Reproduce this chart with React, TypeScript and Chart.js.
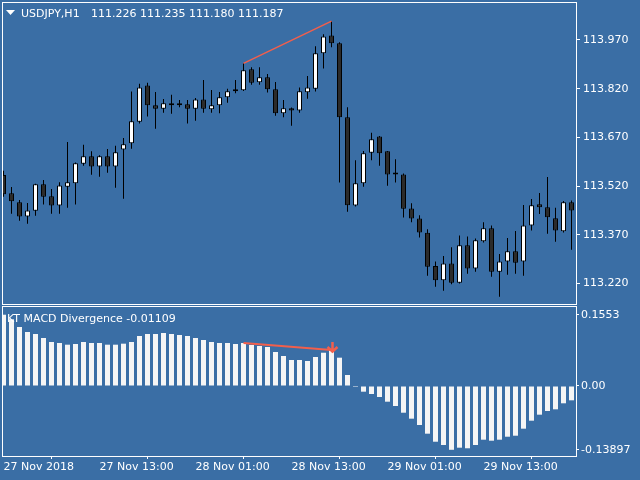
import React, { useEffect, useRef } from "react";
import { Chart, registerables } from "chart.js";
Chart.register(...registerables);

const BG = "#3A6EA5";
const FG = "#ffffff";
const RED = "#f25f4c";
const FONT = "DejaVu Sans";

const symbolTitle = "USDJPY,H1";
const quoteTitle = "111.226 111.235 111.180 111.187";
const macdTitle = "KT MACD Divergence -0.01109";

const timeLabels = ["27 Nov 2018", "27 Nov 13:00", "28 Nov 01:00", "28 Nov 13:00", "29 Nov 01:00", "29 Nov 13:00"];
const timeTickIdx = [0, 12, 24, 36, 48, 60];

const open = [113.554, 113.498, 113.470, 113.426, 113.444, 113.526, 113.489, 113.460, 113.518, 113.529,
  113.589, 113.612, 113.580, 113.612, 113.580, 113.633, 113.652, 113.718, 113.830, 113.769,
  113.758, 113.775, 113.772, 113.772, 113.758, 113.787, 113.757, 113.769, 113.794, 113.816,
  113.815, 113.880, 113.840, 113.855, 113.818, 113.744, 113.760, 113.753, 113.809, 113.820,
  113.929, 113.984, 113.960, 113.732, 113.460, 113.529, 113.623, 113.673, 113.627, 113.557,
  113.556, 113.451, 113.420, 113.376, 113.274, 113.230, 113.282, 113.222, 113.338, 113.266,
  113.350, 113.390, 113.256, 113.288, 113.319, 113.288, 113.399, 113.464, 113.455, 113.421,
  113.381, 113.470];
const high = [113.567, 113.517, 113.477, 113.468, 113.527, 113.539, 113.511, 113.532, 113.656, 113.593,
  113.647, 113.627, 113.615, 113.634, 113.644, 113.668, 113.811, 113.835, 113.838, 113.810,
  113.788, 113.801, 113.785, 113.785, 113.791, 113.847, 113.816, 113.810, 113.820, 113.847,
  113.898, 113.886, 113.886, 113.865, 113.841, 113.785, 113.762, 113.824, 113.859, 113.951,
  113.988, 114.028, 113.963, 113.763, 113.600, 113.628, 113.684, 113.674, 113.628, 113.603,
  113.559, 113.467, 113.430, 113.387, 113.288, 113.305, 113.332, 113.368, 113.365, 113.359,
  113.409, 113.399, 113.311, 113.360, 113.382, 113.462, 113.480, 113.499, 113.548, 113.453,
  113.474, 113.476];
const low = [113.487, 113.435, 113.413, 113.404, 113.429, 113.463, 113.435, 113.435, 113.453, 113.463,
  113.583, 113.555, 113.549, 113.561, 113.515, 113.481, 113.635, 113.713, 113.734, 113.697,
  113.746, 113.743, 113.763, 113.713, 113.721, 113.746, 113.746, 113.744, 113.777, 113.806,
  113.813, 113.832, 113.832, 113.808, 113.737, 113.732, 113.706, 113.746, 113.789, 113.811,
  113.882, 113.948, 113.531, 113.441, 113.457, 113.518, 113.600, 113.583, 113.521, 113.531,
  113.423, 113.409, 113.362, 113.244, 113.210, 113.198, 113.218, 113.220, 113.250, 113.256,
  113.346, 113.241, 113.179, 113.247, 113.250, 113.244, 113.383, 113.434, 113.373, 113.349,
  113.377, 113.324];
const close = [113.495, 113.473, 113.426, 113.445, 113.526, 113.487, 113.460, 113.522, 113.532, 113.590,
  113.612, 113.580, 113.612, 113.580, 113.624, 113.649, 113.720, 113.824, 113.769, 113.758,
  113.775, 113.769, 113.769, 113.758, 113.787, 113.758, 113.769, 113.794, 113.812, 113.812,
  113.877, 113.838, 113.855, 113.818, 113.744, 113.760, 113.753, 113.812, 113.824, 113.929,
  113.981, 113.960, 113.732, 113.461, 113.529, 113.621, 113.664, 113.621, 113.556, 113.556,
  113.450, 113.420, 113.377, 113.272, 113.230, 113.282, 113.222, 113.338, 113.266, 113.353,
  113.390, 113.256, 113.288, 113.319, 113.284, 113.399, 113.461, 113.455, 113.424, 113.383,
  113.470, 113.445];

const macd = [0.1553, 0.1453, 0.1285, 0.1176, 0.1133, 0.1046, 0.0959, 0.0937, 0.0900, 0.0915,
  0.0959, 0.0937, 0.0937, 0.0900, 0.0900, 0.0922, 0.0959, 0.1089, 0.1133, 0.1133,
  0.1155, 0.1133, 0.1111, 0.1089, 0.1046, 0.1002, 0.0959, 0.0937, 0.0937, 0.0915,
  0.0937, 0.0893, 0.0871, 0.0850, 0.0741, 0.0654, 0.0566, 0.0566, 0.0545, 0.0632,
  0.0725, 0.0784, 0.0617, 0.0240, -0.0015, -0.0124, -0.0174, -0.0240, -0.0342, -0.0436,
  -0.0582, -0.0712, -0.0850, -0.1039, -0.1214, -0.1285, -0.13897, -0.1344, -0.1357, -0.1285,
  -0.1170, -0.1192, -0.1170, -0.1105, -0.1083, -0.0930, -0.0756, -0.0625, -0.0545, -0.0508,
  -0.0377, -0.0312];

const priceTicks = [113.22, 113.37, 113.52, 113.67, 113.82, 113.97];
const macdTicks = [-0.13897, 0, 0.1553];
const macdTickLabels = ["-0.13897", "0.00", "0.1553"];
const divergenceFrom = 30;
const divergenceTo = 41;

const PRICE_MIN = 113.1569;
const PRICE_MAX = 114.087;
const MACD_MIN = -0.15251;
const MACD_MAX = 0.17429;
const X_MIN = -0.1875;
const X_MAX = 71.5625;

const idx = open.map((_, i) => i);

const framePlugin = {
  id: "frame",
  afterDraw(chart: any) {
    const { ctx, chartArea } = chart;
    const { left, top, right, bottom } = chartArea;
    ctx.save();
    ctx.strokeStyle = FG;
    ctx.lineWidth = 1;
    ctx.strokeRect(left + 0.5, top + 0.5, right - left, bottom - top);
    ctx.restore();
  },
};

function fixY(s: any) {
  s.width = 64;
  s.paddingTop = 0;
  s.paddingBottom = 0;
}

export default function App() {
  const mainRef = useRef<HTMLCanvasElement>(null);
  const subRef = useRef<HTMLCanvasElement>(null);

  useEffect(() => {
    document.body.style.margin = "0";
    document.body.style.background = BG;

    const tickFont = { family: FONT, size: 11 };

    const mainTitle = {
      id: "mainTitle",
      afterDraw(chart: any) {
        const ctx = chart.ctx;
        ctx.save();
        ctx.fillStyle = FG;
        ctx.beginPath();
        ctx.moveTo(6, 10);
        ctx.lineTo(15, 10);
        ctx.lineTo(10.5, 15);
        ctx.closePath();
        ctx.fill();
        ctx.font = `11px "${FONT}"`;
        ctx.textBaseline = "alphabetic";
        ctx.textAlign = "left";
        ctx.fillText(symbolTitle, 21, 17);
        ctx.fillText(quoteTitle, 91, 17);
        ctx.restore();
      },
    };

    const subTitle = {
      id: "subTitle",
      afterDatasetsDraw(chart: any) {
        const ctx = chart.ctx;
        const xs = chart.scales.x;
        const ys = chart.scales.y;
        const x = Math.round(xs.getPixelForValue(divergenceTo)) + 0.5;
        const yb = ys.getPixelForValue(macd[divergenceTo]);
        ctx.save();
        ctx.strokeStyle = RED;
        ctx.lineWidth = 2.5;
        ctx.beginPath();
        ctx.moveTo(x, yb - 8);
        ctx.lineTo(x, yb + 2.5);
        ctx.moveTo(x - 5, yb - 3);
        ctx.lineTo(x, yb + 1.5);
        ctx.lineTo(x + 5, yb - 3);
        ctx.stroke();
        ctx.restore();
      },
      afterDraw(chart: any) {
        const ctx = chart.ctx;
        ctx.save();
        ctx.fillStyle = FG;
        ctx.font = `11px "${FONT}"`;
        ctx.textBaseline = "alphabetic";
        ctx.textAlign = "left";
        ctx.fillText(macdTitle, 7, 17.5);
        ctx.restore();
      },
    };

    const main = new Chart(mainRef.current!, {
      type: "bar",
      data: {
        datasets: [
          {
            type: "bar",
            data: idx.map((i) => ({ x: i, y: [low[i], high[i]] })) as any,
            backgroundColor: "#000000",
            grouped: false,
            maxBarThickness: 1,
            minBarLength: 1,
            order: 3,
          } as any,
          {
            type: "bar",
            data: idx.map((i) => ({ x: i, y: [Math.min(open[i], close[i]), Math.max(open[i], close[i])] })) as any,
            backgroundColor: idx.map((i) => (close[i] >= open[i] ? "#ffffff" : "#2b2b2b")),
            borderColor: "#000000",
            borderWidth: 1,
            borderSkipped: false,
            grouped: false,
            maxBarThickness: 5,
            minBarLength: 2,
            order: 2,
          } as any,
          {
            type: "line",
            data: [
              { x: divergenceFrom, y: high[divergenceFrom] },
              { x: divergenceTo, y: high[divergenceTo] },
            ],
            borderColor: RED,
            borderWidth: 1.5,
            pointRadius: 0,
            order: 1,
          } as any,
        ],
      },
      options: {
        responsive: false,
        animation: false,
        layout: { padding: { left: 2, top: 2, right: 0, bottom: 2 } },
        plugins: { legend: { display: false }, tooltip: { enabled: false } },
        scales: {
          x: { type: "linear", min: X_MIN, max: X_MAX, display: false, offset: false },
          y: {
            position: "right",
            min: PRICE_MIN,
            max: PRICE_MAX,
            afterFit: fixY,
            afterBuildTicks(s: any) { s.ticks = priceTicks.map((v) => ({ value: v })); },
            ticks: { color: FG, font: tickFont, padding: 3, callback: (v: any) => Number(v).toFixed(3) },
            grid: { display: true, drawOnChartArea: false, drawTicks: true, tickLength: 4, color: FG },
            border: { display: false },
          },
        },
      } as any,
      plugins: [framePlugin, mainTitle],
    });

    const sub = new Chart(subRef.current!, {
      type: "bar",
      data: {
        datasets: [
          {
            type: "bar",
            data: macd.map((v, i) => ({ x: i, y: v })) as any,
            backgroundColor: "#f5f5f5",
            grouped: false,
            maxBarThickness: 5,
            minBarLength: 1,
            order: 2,
          } as any,
          {
            type: "line",
            data: [
              { x: divergenceFrom, y: macd[divergenceFrom] },
              { x: divergenceTo, y: macd[divergenceTo] },
            ],
            borderColor: RED,
            borderWidth: 2,
            pointRadius: 0,
            order: 1,
          } as any,
        ],
      },
      options: {
        responsive: false,
        animation: false,
        layout: { padding: { left: 2, top: 2, right: 0, bottom: 0 } },
        plugins: { legend: { display: false }, tooltip: { enabled: false } },
        scales: {
          x: {
            type: "linear",
            min: X_MIN,
            max: X_MAX,
            offset: false,
            afterFit(s: any) { s.height = 24; s.paddingLeft = 0; s.paddingRight = 0; },
            afterBuildTicks(s: any) { s.ticks = timeTickIdx.map((v) => ({ value: v })); },
            ticks: {
              color: FG,
              font: tickFont,
              align: "start",
              padding: 2,
              maxRotation: 0,
              autoSkip: false,
              callback: (v: any) => timeLabels[timeTickIdx.indexOf(Number(v))],
            },
            grid: { display: true, drawOnChartArea: false, drawTicks: true, tickLength: 3, color: FG },
            border: { display: false },
          },
          y: {
            position: "right",
            min: MACD_MIN,
            max: MACD_MAX,
            afterFit: fixY,
            afterBuildTicks(s: any) { s.ticks = macdTicks.map((v) => ({ value: v })); },
            ticks: {
              color: FG,
              font: tickFont,
              padding: 2,
              callback: (v: any) => macdTickLabels[macdTicks.indexOf(Number(v))],
            },
            grid: { display: true, drawOnChartArea: false, drawTicks: true, tickLength: 3, color: FG },
            border: { display: false },
          },
        },
      } as any,
      plugins: [framePlugin, subTitle],
    });

    return () => {
      main.destroy();
      sub.destroy();
    };
  }, []);

  return (
    <div style={{ position: "relative", width: 640, height: 480, background: BG, overflow: "hidden" }}>
      <canvas ref={mainRef} width={640} height={306} style={{ position: "absolute", left: 0, top: 0, width: 640, height: 306 }} />
      <canvas ref={subRef} width={640} height={176} style={{ position: "absolute", left: 0, top: 304, width: 640, height: 176 }} />
    </div>
  );
}
